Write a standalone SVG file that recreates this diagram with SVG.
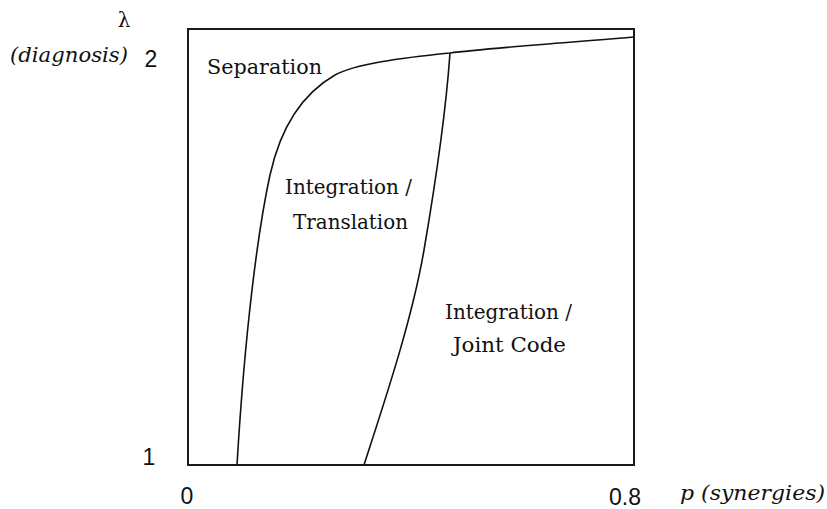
<svg xmlns="http://www.w3.org/2000/svg" width="827" height="509" viewBox="0 0 827 509">
<style>
text{fill:#111}
.lbl{font-family:'DejaVu Serif','Liberation Serif',serif;font-size:21px}
.ital{font-family:'DejaVu Serif','Liberation Serif',serif;font-style:italic;font-size:21px}
.num{font-family:'Liberation Sans','DejaVu Sans',sans-serif;font-size:23px}
.frame{fill:none;stroke:#1a1a1a;stroke-width:2}
.curve{fill:none;stroke:#111;stroke-width:1.6}
</style>
<rect width="827" height="509" fill="#fff"/>
<g id="axes">
<rect class="frame" x="188" y="29" width="446" height="436"/>
<text class="lbl" x="124" y="27" text-anchor="middle" style="font-size:20px">λ</text>
<text class="ital" x="10" y="62" textLength="118" lengthAdjust="spacingAndGlyphs">(diagnosis)</text>
<text class="num" x="151" y="67" text-anchor="middle">2</text>
<text class="num" x="149" y="465" text-anchor="middle">1</text>
<text class="num" x="187" y="504" text-anchor="middle">0</text>
<text class="num" x="625" y="505" text-anchor="middle">0.8</text>
<text class="ital" x="680" y="500" textLength="145" lengthAdjust="spacingAndGlyphs">p (synergies)</text>
</g>
<g id="connectors">
<path class="curve" d="M634,37 C560,43 480,49 450,53 C400,58 355,64 335,75 C300,95 280,130 270,175 C258,230 245,330 237,465"/>
<path class="curve" d="M450,53 C446,110 436,180 424,250 C412,320 385,400 364,465"/>
</g>
<g id="separation">
<text class="lbl" x="207" y="74" textLength="115" lengthAdjust="spacingAndGlyphs">Separation</text>
</g>
<g id="translation">
<text class="lbl" x="285" y="194" textLength="127" lengthAdjust="spacingAndGlyphs">Integration /</text>
<text class="lbl" x="293" y="229" textLength="115" lengthAdjust="spacingAndGlyphs">Translation</text>
</g>
<g id="jointcode">
<text class="lbl" x="445" y="319" textLength="127" lengthAdjust="spacingAndGlyphs">Integration /</text>
<text class="lbl" x="453" y="352" textLength="113" lengthAdjust="spacingAndGlyphs">Joint Code</text>
</g>
</svg>
